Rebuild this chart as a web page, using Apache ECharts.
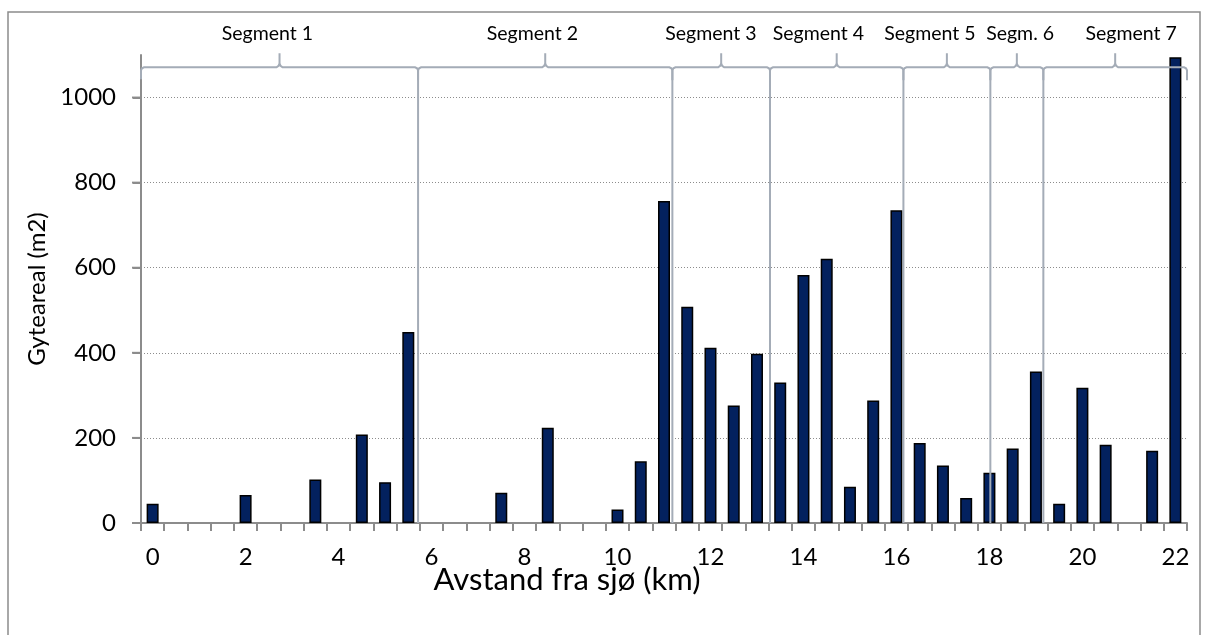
<!DOCTYPE html>
<html>
<head>
<meta charset="utf-8">
<script src="https://cdn.jsdelivr.net/npm/echarts@6/dist/echarts.min.js"></script>
<style>
  html, body { margin: 0; padding: 0; background: #fff; }
  #bar_chart { width: 1208px; height: 635px; }
</style>
</head>
<body>
<div id="bar_chart"></div>
<script>
// avstand fra sjø (km), hver 0,5 km
const km = ['0', '0.5', '1', '1.5', '2', '2.5', '3', '3.5', '4', '4.5',
  '5', '5.5', '6', '6.5', '7', '7.5', '8', '8.5', '9', '9.5',
  '10', '10.5', '11', '11.5', '12', '12.5', '13', '13.5', '14', '14.5',
  '15', '15.5', '16', '16.5', '17', '17.5', '18', '18.5', '19', '19.5',
  '20', '20.5', '21', '21.5', '22'];
// gyteareal (m2), null = ingen gyteareal registrert
const gyteareal = [45, null, null, null, 66, null, null, 102, null, 208,
  96, 449, null, null, null, 71, null, 224, null, null,
  32, 145, 757, 508, 412, 276, 398, 330, 583, 621,
  85, 288, 735, 188, 135, 59, 118, 175, 356, 45,
  318, 184, null, 170, 1095];
const yTicks = [0, 200, 400, 600, 800, 1000];

// segmenter langs elva (km)
const segNames = ['Segment 1', 'Segment 2', 'Segment 3', 'Segment 4', 'Segment 5', 'Segm. 6', 'Segment 7'];
const segStart = [-0.25, 5.71, 11.18, 13.28, 16.15, 18.02, 19.16];
const segEnd = [5.71, 11.18, 13.28, 16.15, 18.02, 19.16, 22.25];
const segLabelAt = [2.47, 8.17, 12.01, 14.32, 16.72, 18.66, 21.05];
const braceLevel = 1071;

const font = 'Lato, "Noto Sans", sans-serif';
const axisGrey = '#8c8c8c';
let chart = echarts.init(document.getElementById('bar_chart'));

function renderBrace(params, api) {
  const i = params.dataIndex;
  const p0 = api.coord([api.value(0), api.value(3)]);
  const p1 = api.coord([api.value(1), api.value(3)]);
  const pl = api.coord([api.value(2), api.value(3)]);
  const base = api.coord([api.value(0), 0]);
  const x0 = p0[0], x1 = p1[0], y = p0[1];
  const xm = (x0 + x1) / 2;
  const pts = [
    [x0, i > 0 ? base[1] : y + 12], [x0, y + 3], [x0 + 1, y + 1], [x0 + 3, y],
    [xm - 3, y], [xm - 1, y - 1.5], [xm, y - 4], [xm, y - 14],
    [xm, y - 4], [xm + 1, y - 1.5], [xm + 3, y],
    [x1 - 3, y], [x1 - 1, y + 1], [x1, y + 3], [x1, y + 13]
  ];
  return {
    type: 'group',
    children: [
      {
        type: 'polyline',
        shape: { points: pts },
        style: { fill: null, stroke: '#a4acb7', lineWidth: 2 }
      },
      {
        type: 'text',
        style: {
          text: segNames[i],
          x: pl[0],
          y: y - 34,
          align: 'center',
          verticalAlign: 'middle',
          font: '19.5px ' + font,
          fill: '#000'
        }
      }
    ]
  };
}

// små streker til venstre for y-aksen
function renderYTick(params, api) {
  const p = api.coord([api.value(0), api.value(1)]);
  return {
    type: 'polyline',
    shape: { points: [[p[0] - 9, p[1]], [p[0], p[1]]] },
    style: { fill: null, stroke: axisGrey, lineWidth: 2 }
  };
}

let option = {
  animation: false,
  grid: {
    left: 141,
    right: 21,
    top: 55,
    bottom: 112
  },
  graphic: [
    {
      type: 'rect',
      shape: { x: 8, y: 12, width: 1192, height: 640 },
      style: { fill: null, stroke: axisGrey, lineWidth: 1.5 },
      silent: true
    },
    {
      type: 'text',
      x: 567,
      y: 580,
      style: {
        text: 'Avstand fra sjø (km)',
        align: 'center',
        verticalAlign: 'middle',
        font: '31px ' + font,
        fill: '#000'
      }
    }
  ],
  xAxis: [
    {
      type: 'category',
      data: km,
      axisLine: { onZero: false, lineStyle: { color: axisGrey, width: 2 } },
      axisTick: {
        show: true,
        interval: 0,
        length: 8,
        lineStyle: { color: axisGrey, width: 2 }
      },
      axisLabel: {
        interval: 3,
        margin: 22,
        color: '#000',
        fontSize: 24,
        fontFamily: font
      },
      splitLine: { show: false }
    },
    {
      type: 'value',
      min: -0.25,
      max: 22.25,
      show: false,
      axisLine: { onZero: false }
    }
  ],
  yAxis: {
    type: 'value',
    min: 0,
    max: 1100,
    interval: 200,
    name: 'Gyteareal (m2)',
    nameLocation: 'middle',
    nameGap: 90,
    nameTextStyle: { color: '#000', fontSize: 24, fontFamily: font },
    axisLine: { show: true, onZero: false, lineStyle: { color: axisGrey, width: 2 } },
    axisTick: {
      show: true,
      length: 8,
      customValues: yTicks,
      lineStyle: { color: axisGrey, width: 2 }
    },
    axisLabel: {
      showMaxLabel: false,
      margin: 25,
      color: '#000',
      fontSize: 24,
      fontFamily: font,
      formatter: v => (yTicks.indexOf(v) >= 0 ? String(v) : '')
    },
    splitLine: {
      show: true,
      lineStyle: {
        color: [axisGrey, axisGrey, axisGrey, axisGrey, axisGrey, axisGrey, 'rgba(0,0,0,0)'],
        type: [1, 2],
        width: 1
      }
    }
  },
  series: [
    {
      name: 'Gyteareal',
      type: 'bar',
      data: gyteareal,
      barWidth: 12,
      itemStyle: {
        color: '#03215e',
        borderColor: '#000',
        borderWidth: 1.5
      }
    },
    {
      name: 'Segmenter',
      type: 'custom',
      xAxisIndex: 1,
      yAxisIndex: 0,
      clip: false,
      silent: true,
      z: 5,
      renderItem: renderBrace,
      encode: { x: [0, 1, 2], y: 3 },
      data: segStart.map((s, i) => [s, segEnd[i], segLabelAt[i], braceLevel])
    },
    {
      name: 'yTicks',
      type: 'custom',
      xAxisIndex: 1,
      yAxisIndex: 0,
      clip: false,
      silent: true,
      z: 5,
      renderItem: renderYTick,
      encode: { x: 0, y: 1 },
      data: yTicks.map(v => [-0.25, v])
    }
  ]
};
chart.setOption(option);
</script>
</body>
</html>
